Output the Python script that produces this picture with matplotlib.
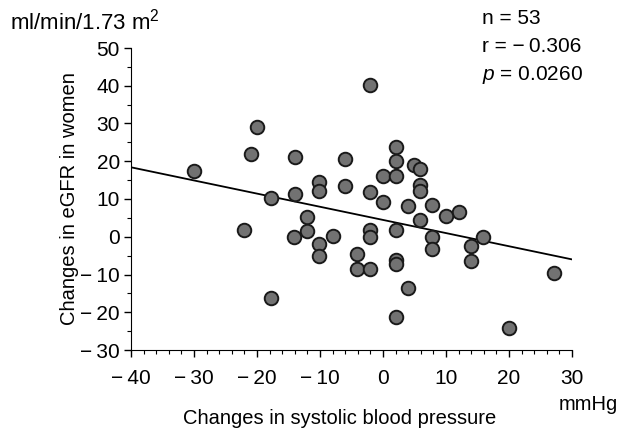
import matplotlib
matplotlib.use("Agg")
import matplotlib.pyplot as plt
from matplotlib.ticker import MultipleLocator

plt.rcParams['font.family'] = ['Liberation Sans', 'DejaVu Sans']
plt.rcParams['mathtext.fontset'] = 'custom'
plt.rcParams['mathtext.it'] = 'Liberation Sans:italic'
plt.rcParams['mathtext.rm'] = 'Liberation Sans'

# changes in systolic BP (mmHg) vs changes in eGFR (ml/min/1.73 m2)
sbp_change = [-30, -20, -21, -17.8, -14, -14, -10.2, -10.2, -6, -6,
              -2.1, 2, 2, 4.9, 5.9, 0, 2, 5.8, 5.8, -2.1,
              0, 3.9, 7.8, 12, 10, 5.8, -2.1, -2.1, 2, 7.8,
              7.8, 15.9, 13.9, 13.9, -4.1, -4.1, -2.1, 2, 2, 3.9,
              2, 20, 27.1, -22.1, -12, -12, -14.1, -7.9, -10.2, -10.2,
              -17.8]
egfr_change = [17.4, 29.2, 21.8, 10.2, 21.1, 11.3, 14.6, 12.2, 20.5, 13.5,
               40.3, 23.9, 20.1, 18.9, 17.9, 16.0, 16.0, 13.7, 12.2, 11.8,
               9.1, 8.2, 8.4, 6.5, 5.6, 4.5, 1.7, -0.1, 1.7, -0.1,
               -3.2, -0.1, -2.5, -6.5, -4.7, -8.6, -8.6, -6.2, -7.1, -13.5,
               -21.3, -24.2, -9.7, 1.9, 5.2, 1.5, -0.1, 0.2, -1.8, -5.2,
               -16.3]

# regression line ends
fit_x = [-40, 30]
fit_y = [18.4, -6.0]

xticks = [-40, -30, -20, -10, 0, 10, 20, 30]
yticks = [-30, -20, -10, 0, 10, 20, 30, 40, 50]


def lab(v):
    return ('\u2212\u2009' + str(-v)) if v < 0 else str(v)


fig = plt.figure(figsize=(6.18, 4.29), dpi=100)
ax = fig.add_axes([131 / 618, 79 / 429, 441 / 618, 302 / 429])

ax.plot(fit_x, fit_y, color='black', lw=1.3, zorder=2)
ax.scatter(sbp_change, egfr_change, s=95, facecolor='#727272',
           edgecolor='#1a1a1a', linewidth=1.4, zorder=3)

ax.set_xlim(-40, 30)
ax.set_ylim(-30, 50)
ax.spines['top'].set_visible(False)
ax.spines['right'].set_visible(False)
ax.set_xticks(xticks)
ax.set_xticklabels([lab(v) for v in xticks])
ax.set_yticks(yticks)
ax.set_yticklabels([lab(v) for v in yticks])
ax.xaxis.set_minor_locator(MultipleLocator(2))
ax.yaxis.set_minor_locator(MultipleLocator(5))
ax.tick_params(axis='both', which='major', labelsize=15, length=5, width=1)
ax.tick_params(axis='both', which='minor', length=3, width=0.8)
ax.tick_params(axis='x', pad=9)
ax.tick_params(axis='y', pad=3)

ax.set_ylabel('Changes in eGFR in women', fontsize=14.5, labelpad=1)
fig.text(340 / 618, 1 - 418 / 429, 'Changes in systolic blood pressure',
         fontsize=14.5, ha='center', va='center')
fig.text(588 / 618, 1 - 405 / 429, 'mmHg', fontsize=14.5, ha='center', va='center')
fig.text(10 / 618, 1 - 22 / 429, 'ml/min/1.73 m$^2$', fontsize=16, ha='left', va='center')

fig.text(482 / 618, 1 - 18 / 429, 'n = 53', fontsize=15, ha='left', va='center')
fig.text(482 / 618, 1 - 47 / 429, 'r = \u2212\u20090.306', fontsize=15, ha='left', va='center')
fig.text(482 / 618, 1 - 75 / 429, '$p$ = 0.0260', fontsize=15, ha='left', va='center')

fig.savefig('out.png', dpi=100)
